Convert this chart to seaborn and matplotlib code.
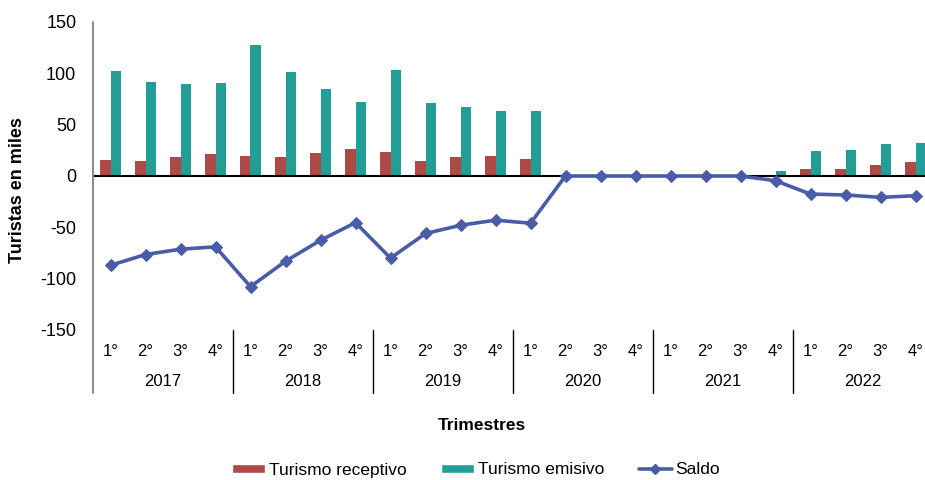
import numpy as np
import pandas as pd
import matplotlib
matplotlib.use("Agg")
import matplotlib.pyplot as plt
import matplotlib.transforms as mtransforms
from matplotlib.patches import Patch
from matplotlib.lines import Line2D
import seaborn as sns

# data (thousands of tourists)
years = ["2017", "2018", "2019", "2020", "2021", "2022"]
quarters = ["1°", "2°", "3°", "4°"]
receptivo = [15.2, 14.6, 18.5, 21.7, 19.8, 18.8, 22.7, 26.3, 23.4, 14.6, 18.8, 19.5,
             16.5, 0, 0, 0, 0, 0, 0, 1.0, 7.0, 6.8, 10.7, 13.6]
emisivo = [102.0, 91.6, 89.7, 90.9, 128.0, 101.7, 85.0, 72.0, 103.3, 71.0, 66.9, 63.3,
           63.3, 0, 0, 0, 0, 0, 0, 5.0, 24.3, 25.0, 31.2, 32.6]
saldo = [-87.0, -76.5, -71.3, -69.0, -107.8, -83.0, -62.6, -45.4, -80.0, -56.0, -48.0, -43.0,
         -46.0, 0, 0, 0, 0, 0, 0, -4.6, -17.6, -18.5, -20.8, -19.2]

RED = "#AE4A45"
TEAL = "#239E97"
BLUE = "#4A5CA8"

sns.set_style("white")
plt.rcParams["font.family"] = ["Liberation Sans", "DejaVu Sans"]
plt.rcParams["axes.unicode_minus"] = False
plt.rcParams["text.color"] = "black"
plt.rcParams["ytick.labelcolor"] = "black"

periods = [f"{y}-{q}" for y in years for q in quarters]
df = pd.DataFrame({
    "periodo": periods * 2,
    "valor": receptivo + emisivo,
    "serie": ["Turismo receptivo"] * len(periods) + ["Turismo emisivo"] * len(periods),
})

W, H = 925, 480
fig = plt.figure(figsize=(W / 100, H / 100), dpi=100)
ax = fig.add_axes([93 / W, (H - 330) / H, 840 / W, 308 / H])

sns.barplot(data=df, x="periodo", y="valor", hue="serie", order=periods,
            palette=[RED, TEAL], saturation=1, width=0.58, gap=0, linewidth=0,
            legend=False, ax=ax)
sns.lineplot(x=np.arange(len(periods)), y=saldo, color=BLUE, lw=2.6,
             marker="D", markersize=6.5, markeredgecolor=BLUE, ax=ax)

ax.set_ylim(-150, 150)
ax.set_xlim(-0.5, len(periods) - 0.5)
ax.set_yticks(range(-150, 151, 50))
ax.axhline(0, color="black", lw=1.5, zorder=1)
for s in ax.spines.values():
    s.set_visible(False)
ax.tick_params(axis="y", length=5, width=1.2, color="#808080", labelsize=13, pad=7,
               labelcolor="black")
ax.set_xticks([])
ax.set_xlabel("")
ax.set_ylabel("")

# left axis line extended down through the category area
bot = -63 / 308
ax.plot([0, 0], [1, bot], transform=ax.transAxes, color="#808080", lw=1.3, clip_on=False)

trans = mtransforms.blended_transform_factory(ax.transData, ax.transAxes)
for i, p in enumerate(periods):
    ax.text(i, -22 / 308, quarters[i % 4], transform=trans, ha="center", va="center", fontsize=12)
for j, y in enumerate(years):
    ax.text(j * 4 + 1.5, -52 / 308, y, transform=trans, ha="center", va="center", fontsize=12)
    ax.plot([j * 4 + 3.5] * 2, [0, bot], transform=trans, color="black", lw=1, clip_on=False)

fig.text(482 / W, 1 - 425 / H, "Trimestres", ha="center", va="center",
         fontsize=12.5, fontweight="bold")
fig.text(18 / W, 1 - 190 / H, "Turistas en miles", ha="center", va="center",
         rotation=90, fontsize=13, fontweight="bold")

handles = [
    Patch(facecolor=RED, label="Turismo receptivo"),
    Patch(facecolor=TEAL, label="Turismo emisivo"),
    Line2D([], [], color=BLUE, lw=2.6, marker="D", markersize=5, label="Saldo"),
]
fig.legend(handles=handles, loc="center", bbox_to_anchor=(476 / W, 1 - 470 / H),
           ncol=3, frameon=False, fontsize=12.5, handlelength=1.9, handleheight=0.4,
           handletextpad=0.2, columnspacing=2.0)

fig.savefig("out.png", dpi=100)
